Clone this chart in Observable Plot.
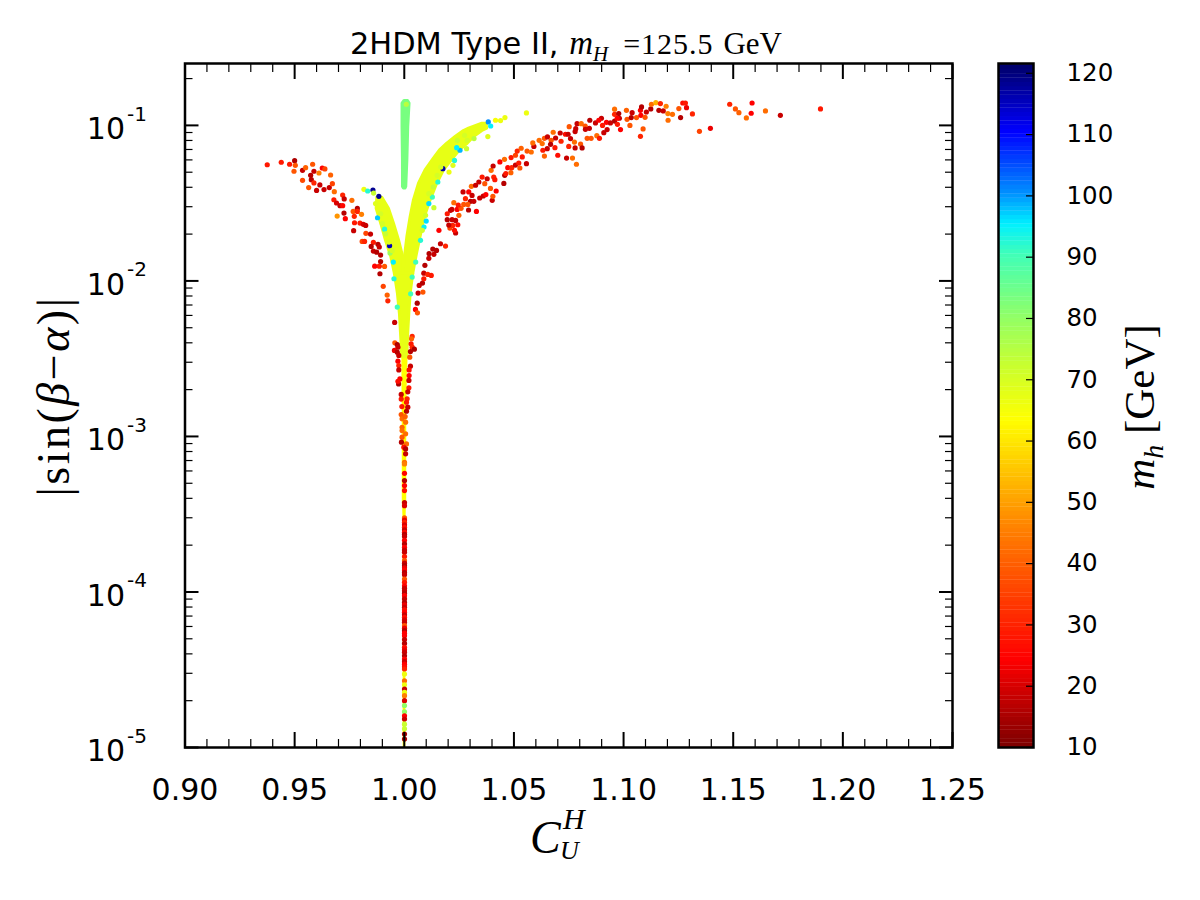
<!DOCTYPE html>
<html>
<head>
<meta charset="utf-8">
<script src="https://cdn.jsdelivr.net/npm/d3@7"></script>
<script src="https://cdn.jsdelivr.net/npm/@observablehq/plot@0.6"></script>
<style>
  body { margin: 0; background: white; }
  #chart { position: relative; width: 1200px; height: 900px; overflow: hidden; }
  #chart svg { position: absolute; left: 0; top: 0; }
  .lab { position: absolute; white-space: nowrap; color: black; line-height: 1; font-family: "Liberation Serif", serif; }
  .lab i { font-style: italic; }
  .sans { font-family: "DejaVu Sans", sans-serif; }
  .rot { transform: translate(-50%, -50%) rotate(-90deg); }
</style>
</head>
<body>
<div id="chart">
  <div class="lab" id="title" style="left:350px;top:27px;font-size:30px"><span class="sans" style="font-size:30.4px">2HDM Type II, </span><i style="margin-left:1px;font-size:33px">m</i><sub style="font-size:21px;font-style:italic;line-height:0">H</sub><span style="margin-left:15px;letter-spacing:1px">=125.5</span><span style="margin-left:2px;font-size:31px"> GeV</span></div>
  <div class="lab" style="left:530px;top:815px;font-size:46px"><i>C</i></div>
  <div class="lab" style="left:563px;top:804px;font-size:30px"><i>H</i></div>
  <div class="lab" style="left:560px;top:838px;font-size:26px"><i>U</i></div>
  <div class="lab rot" style="left:54px;top:396px;font-size:46px;letter-spacing:2.5px">|sin(<i>β</i>−<i>α</i>)|</div>
  <div class="lab rot" style="left:1139px;top:407px;font-size:43px"><i>m</i><sub style="font-size:28px;font-style:italic;line-height:0">h</sub> [GeV]</div>
</div>
<script>
// axes
const xMajor = [0.90, 0.95, 1.00, 1.05, 1.10, 1.15, 1.20, 1.25]
const xMinor = d3.range(0, 36).map(i => 0.90 + i * 0.01).filter(d => Math.round(d * 100) % 5 != 0)
const yMajor = [1e-5, 1e-4, 1e-3, 1e-2, 1e-1]
const yMinor = yMajor.flatMap(d => [2, 3, 4, 5, 6, 7, 8, 9].map(k => k * d)).filter(d => d < 0.25)
const cbarTicks = [10, 20, 30, 40, 50, 60, 70, 80, 90, 100, 110, 120]
const cbarLevels = d3.range(10, 121.6, 0.7)

// jet-like colour ramp of the bar
const mhStops = [10, 24, 45, 63, 72, 80, 90, 95, 100, 110, 121.6]
const mhColors = ['#7f0000', '#ff0000', '#ff7f00', '#ffff00', '#c8ff30', '#90ff68', '#40ffb8', '#00f0ff', '#0090ff', '#0000ff', '#000060']

// dense regions, read as edges: log10|sin| and CU low / high
const spikeLog = [-0.843, -0.860, -1.010, -1.225, -1.396, -1.405]
const spikeLo = [1.0001, 0.9992, 0.9992, 0.9994, 0.9994, 0.9998]
const spikeHi = [1.0017, 1.0024, 1.0018, 1.0014, 1.0009, 1.0006]

const rightLog = [-0.989, -1.021, -1.036, -1.075, -1.117, -1.160, -1.214, -1.289, -1.375, -1.482, -1.589, -1.718, -1.847, -1.954]
const rightLo = [1.0356, 1.0295, 1.0272, 1.0234, 1.0196, 1.0163, 1.0135, 1.0097, 1.0067, 1.0044, 1.0029, 1.0014, 1.0003, 0.9995]
const rightHi = [1.0375, 1.0378, 1.0356, 1.0318, 1.0290, 1.0254, 1.0223, 1.0181, 1.0150, 1.0120, 1.0094, 1.0074, 1.0055, 1.0041]

const leftLog = [-1.465, -1.536, -1.632, -1.739, -1.847, -1.954]
const leftLo = [0.9877, 0.9874, 0.9895, 0.9916, 0.9941, 0.9957]
const leftHi = [0.9900, 0.9930, 0.9953, 0.9976, 0.9995, 0.9995]

const trunkLog = [-1.954, -2.083, -2.211, -2.362, -2.490]
const trunkLo = [0.9957, 0.9971, 0.9980, 0.9986, 0.9991]
const trunkHi = [1.0041, 1.0029, 1.0023, 1.0017, 1.0014]

const stemLog = [-2.490, -2.705, -2.876, -3.400, -3.550, -5.000]
const stemLo = [0.9990, 0.9991, 0.9992, 0.9992, 0.9996, 0.9996]
const stemHi = [1.0016, 1.0012, 1.0010, 1.0010, 1.0006, 1.0006]

// coloured dots on the edges of the dense regions
const edgeCu = [0.9816, 0.9833, 0.9857, 0.9860, 0.9884, 0.9878, 0.9910, 0.9933, 0.9935, 0.9950, 0.9953, 0.9869, 0.9892, 0.9900, 0.9915, 0.9930, 0.9945,
  1.0383, 1.0394, 1.0416, 1.0439, 1.0459, 1.0381, 1.0318, 1.0287, 1.0284, 1.0254, 1.0239, 1.0229, 1.0222, 1.0176, 1.0153, 1.0204, 1.0135, 1.0112, 1.0128, 1.0100, 1.0090, 1.0074, 1.0052, 1.0036, 1.0029, 0.9968,
  1.0150, 1.0112, 1.0097, 1.0275, 1.0242, 1.0166, 1.0132, 1.0082, 1.0557, 1.0009]
const edgeLog = [-1.411, -1.422, -1.416, -1.435, -1.456, -1.594, -1.667, -1.774, -1.821, -1.879, -1.986, -1.503, -1.568, -1.632, -1.697, -1.750, -1.804,
  -0.978, -1.004, -0.967, -0.969, -0.950, -1.072, -1.085, -1.096, -1.150, -1.160, -1.143, -1.225, -1.257, -1.278, -1.364, -1.300, -1.529, -1.503, -1.461, -1.615, -1.654, -1.739, -1.879, -1.975, -2.083, -2.168,
  -1.321, -1.439, -1.578, -1.064, -1.096, -1.268, -1.396, -1.675, -0.920, -0.864]
const edgeMh = [66, 92, 118, 72, 118, 97, 92, 115, 78, 95, 92, 68, 70, 70, 72, 68, 70,
  100, 95, 64, 66, 66, 68, 74, 70, 72, 98, 95, 92, 68, 116, 92, 66, 72, 96, 90, 96, 94, 92, 90, 90, 90, 90,
  70, 70, 70, 70, 72, 70, 72, 70, 66, 74]

// left red arc
const arcLeftCu = [0.9375, 0.9439, 0.9477, 0.9500, 0.9503, 0.9497, 0.9536, 0.9550, 0.9582, 0.9588, 0.9626, 0.9638, 0.9664, 0.9611, 0.9573, 0.9576, 0.9536, 0.9588, 0.9615, 0.9564, 0.9600, 0.9634, 0.9658, 0.9672, 0.9681, 0.9679, 0.9691, 0.9719, 0.9726, 0.9761, 0.9707, 0.9719, 0.9725, 0.9786, 0.9767, 0.9786, 0.9805, 0.9772, 0.9694, 0.9731, 0.9773, 0.9798, 0.9813, 0.9824, 0.9769, 0.9825, 0.9846, 0.9808, 0.9819, 0.9859, 0.9880, 0.9849, 0.9886, 0.9859, 0.9874, 0.9892, 0.9892, 0.9865, 0.9886, 0.9910, 0.9889, 0.9904, 0.9922, 0.9925, 0.9956]
const arcLeftLog = [-1.253, -1.237, -1.250, -1.227, -1.257, -1.295, -1.289, -1.272, -1.250, -1.295, -1.274, -1.280, -1.319, -1.306, -1.321, -1.349, -1.353, -1.370, -1.383, -1.400, -1.418, -1.413, -1.400, -1.375, -1.426, -1.478, -1.499, -1.448, -1.473, -1.482, -1.516, -1.516, -1.564, -1.534, -1.553, -1.553, -1.572, -1.585, -1.583, -1.600, -1.626, -1.628, -1.636, -1.643, -1.677, -1.694, -1.699, -1.746, -1.746, -1.752, -1.765, -1.778, -1.782, -1.808, -1.815, -1.834, -1.875, -1.905, -1.905, -1.907, -1.954, -2.035, -2.091, -2.128, -2.267]
const arcLeftMh = [28, 28, 28, 15, 38, 38, 18, 40, 38, 18, 24, 35, 40, 45, 16, 16, 36, 30, 18, 38, 18, 18, 18, 35, 42, 28, 20, 30, 18, 42, 18, 25, 16, 16, 38, 30, 45, 30, 48, 24, 28, 28, 20, 18, 18, 35, 18, 35, 30, 28, 16, 16, 18, 18, 16, 16, 16, 24, 28, 38, 16, 35, 40, 30, 18]

// right red arc, lower part
const arcLowCu = [1.0051, 1.0059, 1.0063, 1.0085, 1.0068, 1.0083, 1.0089, 1.0089, 1.0107, 1.0123, 1.0094, 1.0112, 1.0113, 1.0135, 1.0130, 1.0147, 1.0165, 1.0188, 1.0158, 1.0234, 1.0229, 1.0208, 1.0244, 1.0221, 1.0203, 1.0196, 1.0218, 1.0234, 1.0249, 1.0196, 1.0211, 1.0217, 1.0241, 1.0259, 1.0293, 1.0329, 1.0226, 1.0246, 1.0271, 1.0279, 1.0302, 1.0317, 1.0290, 1.0268, 1.0294, 1.0306, 1.0309, 1.0344, 1.0360, 1.0372, 1.0401, 1.0404, 1.0419, 1.0393, 1.0325, 1.0340, 1.0367, 1.0355, 1.0378, 1.0408, 1.0413, 1.0396, 1.0405, 1.0436]
const arcLowLog = [-2.183, -2.143, -2.078, -2.072, -2.029, -2.014, -1.986, -1.950, -1.958, -1.965, -1.900, -1.855, -1.825, -1.829, -1.795, -1.804, -1.761, -1.776, -1.675, -1.692, -1.675, -1.660, -1.639, -1.643, -1.641, -1.606, -1.606, -1.611, -1.578, -1.568, -1.546, -1.540, -1.540, -1.533, -1.544, -1.553, -1.497, -1.512, -1.508, -1.471, -1.488, -1.488, -1.508, -1.428, -1.428, -1.392, -1.450, -1.467, -1.454, -1.445, -1.482, -1.456, -1.422, -1.405, -1.385, -1.364, -1.375, -1.332, -1.343, -1.332, -1.349, -1.289, -1.261, -1.235]
const arcLowMh = [24, 15, 18, 38, 18, 16, 28, 18, 30, 28, 16, 18, 16, 18, 16, 16, 18, 30, 24, 18, 26, 35, 26, 30, 18, 16, 18, 18, 40, 28, 18, 18, 24, 38, 16, 24, 42, 28, 38, 30, 16, 18, 38, 18, 24, 42, 18, 18, 18, 24, 18, 38, 24, 38, 18, 18, 38, 28, 18, 30, 28, 42, 18, 24]

// right red arc, upper part and far tail
const arcHighCu = [1.0454, 1.0458, 1.0463, 1.0486, 1.0472, 1.0490, 1.0507, 1.0527, 1.0522, 1.0557, 1.0457, 1.0487, 1.0507, 1.0538, 1.0515, 1.0533, 1.0560, 1.0579, 1.0591, 1.0586, 1.0615, 1.0629, 1.0639, 1.0632, 1.0652, 1.0653, 1.0670, 1.0667, 1.0687, 1.0639, 1.0700, 1.0740, 1.0767, 1.0785, 1.0679, 1.0690, 1.0711, 1.0715, 1.0735, 1.0747, 1.0750, 1.0776, 1.0804, 1.0779, 1.0811, 1.0758, 1.0752, 1.0779, 1.0788, 1.0782, 1.0807, 1.0825, 1.0826, 1.0844, 1.0834, 1.0852, 1.0878, 1.0890, 1.0846, 1.0872, 1.0899, 1.0887, 1.0904, 1.0910, 1.0925, 1.0922, 1.0940, 1.0959, 1.0972, 1.0986, 1.0959, 1.0959, 1.0978, 1.0981, 1.0971, 1.1013, 1.1016, 1.1029, 1.1035, 1.1039, 1.1059, 1.1077, 1.1079, 1.1082, 1.1098, 1.1089, 1.1077, 1.1104, 1.1124, 1.1127, 1.1147, 1.1168, 1.1161, 1.1181, 1.1194, 1.1202, 1.1223, 1.1203, 1.1252, 1.1260, 1.1270, 1.1282, 1.1287, 1.1314, 1.1346, 1.1396, 1.1484, 1.1510, 1.1526, 1.1560, 1.1586, 1.1582, 1.1647, 1.1715, 1.1898]
const arcHighLog = [-1.373, -1.321, -1.310, -1.304, -1.272, -1.272, -1.255, -1.274, -1.242, -1.246, -1.218, -1.207, -1.192, -1.203, -1.165, -1.147, -1.165, -1.171, -1.135, -1.113, -1.096, -1.117, -1.083, -1.160, -1.150, -1.074, -1.096, -1.122, -1.143, -1.197, -1.192, -1.210, -1.210, -1.250, -1.044, -1.081, -1.049, -1.102, -1.057, -1.057, -1.135, -1.107, -1.120, -1.145, -1.145, -1.085, -1.008, -1.040, -0.989, -1.021, -0.989, -1.004, -1.025, -1.019, -1.083, -1.083, -1.066, -1.083, -0.967, -0.984, -0.954, -0.967, -1.000, -1.047, -1.027, -0.980, -0.984, -0.972, -0.993, -1.027, -0.896, -0.929, -0.924, -0.954, -0.954, -0.903, -0.961, -1.000, -0.950, -0.918, -0.950, -0.903, -0.935, -0.881, -0.948, -1.023, -1.070, -0.914, -0.894, -0.864, -0.854, -0.860, -0.903, -0.907, -0.877, -0.924, -0.929, -0.967, -0.892, -0.950, -0.856, -0.856, -0.886, -0.926, -1.038, -1.019, -0.864, -0.894, -0.918, -0.952, -0.856, -0.922, -0.907, -0.935, -0.894]
const arcHighMh = [16, 16, 28, 40, 25, 30, 18, 38, 28, 18, 42, 28, 35, 28, 30, 40, 38, 42, 18, 42, 42, 42, 38, 28, 18, 18, 38, 16, 28, 40, 26, 18, 42, 42, 42, 18, 18, 30, 26, 18, 30, 42, 38, 18, 16, 18, 38, 18, 18, 18, 42, 38, 18, 18, 38, 38, 42, 28, 16, 18, 18, 24, 28, 18, 18, 24, 18, 16, 28, 24, 42, 30, 16, 18, 24, 40, 38, 38, 16, 18, 38, 24, 24, 16, 38, 38, 30, 18, 16, 42, 52, 30, 16, 18, 45, 45, 42, 42, 38, 16, 26, 28, 22, 30, 35, 22, 30, 38, 40, 42, 24, 24, 42, 18, 28]

// dots hugging both sides of the trunk
const trunkDotCu = [1.0060, 0.9957, 0.9968, 0.9971, 0.9955, 0.9968, 0.9975, 0.9971, 0.9975, 0.9975, 0.9980, 0.9974, 0.9971, 0.9986, 0.9986, 0.9989, 0.9986, 0.9990,
  1.0036, 1.0033, 1.0031, 1.0036, 1.0046, 1.0028, 1.0025, 1.0028, 1.0022, 1.0022, 1.0021, 1.0021, 1.0016, 1.0013, 1.0010, 1.0016, 1.0010, 1.0004,
  1.0006, 0.9990, 0.9990, 1.0006, 0.9990, 0.9987, 1.0010, 0.9998, 1.0006, 1.0006]
const trunkDotLog = [-2.205, -2.398, -2.409, -2.426, -2.447, -2.458, -2.479, -2.516, -2.544, -2.572, -2.630, -2.662, -2.645, -2.730, -2.760, -2.808, -2.859, -2.887,
  -2.357, -2.372, -2.404, -2.426, -2.439, -2.454, -2.490, -2.548, -2.572, -2.608, -2.640, -2.687, -2.713, -2.758, -2.780, -2.812, -2.838, -2.872,
  -2.908, -2.941, -2.962, -2.983, -3.005, -3.037, -3.048, -3.069, -3.080, -3.112]
const trunkDotMh = [38, 38, 15, 18, 22, 16, 18, 24, 30, 18, 24, 15, 26, 18, 28, 28, 38, 42,
  30, 40, 28, 30, 15, 16, 38, 18, 26, 24, 18, 28, 18, 30, 28, 18, 16, 40,
  42, 40, 42, 42, 38, 16, 42, 26, 16, 18]

// column at CU = 1
const columnLog = [-3.166, -3.177, -3.237, -3.284, -3.316, -3.348, -3.425, -3.445, -3.524, -3.538, -3.552, -3.568, -3.584, -3.600, -3.616, -3.630, -3.644, -3.668, -3.691, -3.713, -3.730, -3.745, -3.772, -3.799, -3.815, -3.831, -3.845, -3.859, -3.875, -3.889, -3.917, -3.938, -3.960, -3.976, -3.992, -4.008, -4.024, -4.045, -4.067, -4.083, -4.099, -4.115, -4.131, -4.147, -4.163, -4.180, -4.195, -4.217, -4.233, -4.249, -4.265, -4.281, -4.306, -4.331, -4.356, -4.372, -4.388, -4.410, -4.431, -4.448, -4.464, -4.480, -4.496, -4.528, -4.571, -4.597, -4.624, -4.646, -4.667, -4.699, -4.730, -4.770, -4.796, -4.817, -4.850, -4.880, -4.914, -4.946]
const columnMh = [42, 45, 24, 16, 24, 26, 18, 20, 38, 22, 30, 20, 26, 18, 26, 16, 18, 24, 16, 24, 18, 18, 28, 38, 18, 15, 22, 24, 16, 18, 38, 28, 24, 18, 18, 16, 24, 18, 16, 22, 18, 26, 24, 18, 26, 20, 18, 38, 22, 16, 24, 24, 18, 16, 26, 22, 18, 16, 24, 18, 24, 26, 30, 66, 42, 66, 18, 66, 45, 20, 80, 80, 24, 18, 72, 72, 15, 15]

const toRows = (cu, log, mh) => cu.map((c, i) => ({ cu: c, sin: 10 ** log[i], mh: mh[i] }))
const toBand = (log, lo, hi, mh) => log.map((l, i) => ({ sin: 10 ** l, lo: lo[i], hi: hi[i], mh: mh }))

const dots = [
  ...toRows(edgeCu, edgeLog, edgeMh),
  ...toRows(arcLeftCu, arcLeftLog, arcLeftMh),
  ...toRows(arcLowCu, arcLowLog, arcLowMh),
  ...toRows(arcHighCu, arcHighLog, arcHighMh),
  ...toRows(trunkDotCu, trunkDotLog, trunkDotMh),
  ...toRows(columnLog.map(() => 1.0001), columnLog, columnMh),
]

// stroke stands in for the radius of the dots that fill these regions
const band = (rows, sw = 3) => Plot.areaX(rows, { x1: "lo", x2: "hi", y: "sin", fill: "mh", stroke: "mh", strokeWidth: sw, strokeLinejoin: "round" })
const colorScale = { type: "linear", domain: mhStops, range: mhColors, clamp: true }

let chart = Plot.plot({
  width: 1200,
  height: 900,
  marginLeft: 184.5,
  marginRight: 248,
  marginTop: 63,
  marginBottom: 153,
  style: { background: "transparent", fontFamily: "DejaVu Sans" },
  x: { domain: [0.90, 1.25], axis: null },
  y: { type: "log", domain: [1e-5, 0.25], axis: null },
  color: colorScale,
  marks: [
    band(toBand(stemLog, stemLo, stemHi, 63), 0.5),
    band(toBand(trunkLog, trunkLo, trunkHi, 67)),
    band(toBand(rightLog, rightLo, rightHi, 67)),
    band(toBand(leftLog, leftLo, leftHi, 67)),
    band(toBand(spikeLog, spikeLo, spikeHi, 83)),
    Plot.dot(dots, { x: "cu", y: "sin", fill: "mh", r: 2.6 }),
    // ticks point inwards on all four sides
    Plot.axisX(xMajor, { anchor: "bottom", tickSize: -15, strokeWidth: 2, text: null, label: null }),
    Plot.axisX(xMajor, { anchor: "top", tickSize: -15, strokeWidth: 2, text: null, label: null }),
    Plot.axisX(xMinor, { anchor: "bottom", tickSize: -8, strokeWidth: 1.2, text: null, label: null }),
    Plot.axisX(xMinor, { anchor: "top", tickSize: -8, strokeWidth: 1.2, text: null, label: null }),
    Plot.axisY(yMajor, { anchor: "left", tickSize: -14, strokeWidth: 2, text: null, label: null }),
    Plot.axisY(yMajor, { anchor: "right", tickSize: -14, strokeWidth: 2, text: null, label: null }),
    Plot.axisY(yMinor, { anchor: "left", tickSize: -8, strokeWidth: 1.2, text: null, label: null }),
    Plot.axisY(yMinor, { anchor: "right", tickSize: -8, strokeWidth: 1.2, text: null, label: null }),
    Plot.axisX(xMajor, { anchor: "bottom", tickSize: 0, tickPadding: 31, fontSize: 30, tickFormat: d => d.toFixed(2), label: null }),
    Plot.axisY(yMajor, { anchor: "left", tickSize: 0, tickPadding: 60, fontSize: 30, dy: 4, tickFormat: () => "10", label: null }),
    Plot.axisY(yMajor, { anchor: "left", tickSize: 0, tickPadding: 38, fontSize: 20, dy: -11, tickFormat: d => String(Math.round(Math.log10(d))), label: null }),
    Plot.frame({ stroke: "black", strokeWidth: 2.5 }),
  ]
})

// colour bar lives in its own svg so it can have its own y scale
let bar = Plot.plot({
  width: 1200,
  height: 900,
  marginLeft: 998,
  marginRight: 167,
  marginTop: 63,
  marginBottom: 153,
  style: { background: "transparent", fontFamily: "DejaVu Sans" },
  x: { domain: [0, 1], axis: null },
  y: { domain: [10, 121.6], axis: null },
  color: colorScale,
  marks: [
    Plot.rect(cbarLevels, { x1: 0, x2: 1, y1: d => d, y2: d => Math.min(d + 0.75, 121.6), fill: d => d }),
    Plot.ruleY(cbarTicks, { x1: 0.8, x2: 1, stroke: "black", strokeWidth: 1.2 }),
    Plot.axisY(cbarTicks, { anchor: "right", tickSize: 0, tickPadding: 33, fontSize: 24.5, label: null }),
    Plot.frame({ stroke: "black", strokeWidth: 2.5 }),
  ]
})

d3.select('#chart').append(() => chart)
d3.select('#chart').append(() => bar)
</script>
</body>
</html>
